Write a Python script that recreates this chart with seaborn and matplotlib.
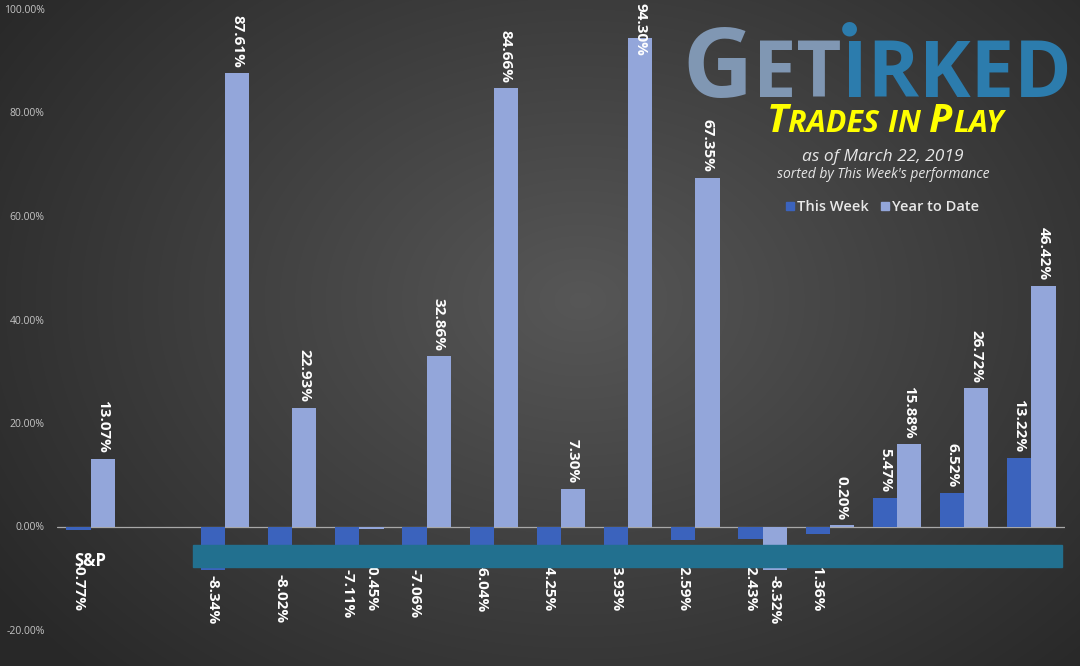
import numpy as np
import pandas as pd
import matplotlib
matplotlib.use("Agg")
import matplotlib.pyplot as plt
import seaborn as sns
from matplotlib.patches import Rectangle

# Data (percent)
categories = ["S&P", "Trade 1", "Trade 2", "Trade 3", "Trade 4", "Trade 5", "Trade 6",
              "Trade 7", "Trade 8", "Trade 9", "Trade 10", "Trade 11", "Trade 12", "Trade 13"]
this_week = [-0.77, -8.34, -8.02, -7.11, -7.06, -6.04, -4.25, -3.93, -2.59, -2.43, -1.36, 5.47, 6.52, 13.22]
year_to_date = [13.07, 87.61, 22.93, -0.45, 32.86, 84.66, 7.30, 94.30, 67.35, -8.32, 0.20, 15.88, 26.72, 46.42]
series = ["This Week", "Year to Date"]
y_ticks = [-20, 0, 20, 40, 60, 80, 100]

df = pd.DataFrame({
    "ticker": categories * 2,
    "series": [series[0]] * len(categories) + [series[1]] * len(categories),
    "pct": this_week + year_to_date,
})
# empty slot between the S&P and the trades
order = [categories[0], ""] + categories[1:]

sns.set_theme(style="white")
plt.rcParams["font.family"] = ["Open Sans", "DejaVu Sans"]

W, H = 1080, 666
fig = plt.figure(figsize=(W / 100, H / 100), dpi=100)

# radial dark background
bg = fig.add_axes([0, 0, 1, 1], zorder=-5)
yy, xx = np.mgrid[0:H, 0:W]
r = np.sqrt(((xx - 580) / 700.0) ** 2 + ((yy - 300) / 520.0) ** 2)
shade = 0.34 - 0.18 * np.clip(r, 0, 1)
bg.imshow(np.dstack([shade] * 3), aspect="auto", extent=[0, 1, 0, 1])
bg.axis("off")

ax = fig.add_axes([57 / W, (H - 630) / H, (1065 - 57) / W, (630 - 9) / H])
ax.set_facecolor("none")

colors = {"This Week": "#3b63bd", "Year to Date": "#93a6da"}
sns.barplot(data=df, x="ticker", y="pct", hue="series", order=order, hue_order=series,
            palette=colors, width=0.72, saturation=1, linewidth=0, ax=ax, legend=False, zorder=3)

ax.axhline(0, color="#a8a8a8", lw=0.9, zorder=2)
ax.set_ylim(-20, 100)
ax.set_yticks(y_ticks)
ax.set_yticklabels([f"{t:.2f}%" for t in y_ticks])
ax.tick_params(axis="y", length=0, pad=9, labelsize=7.5, labelcolor="#c4c4c4")
ax.set_xticks([])
ax.set_xlabel("")
ax.set_ylabel("")
for s in ax.spines.values():
    s.set_visible(False)

renderer = fig.canvas.get_renderer()

# value labels, rotated; negatives kept below the category label row
pad = 1.1
label_kw = dict(rotation=270, ha="center", color="white", fontsize=11, fontweight="bold", zorder=6)
for cont in ax.containers:
    for patch in cont.patches:
        v = patch.get_height()
        if np.isnan(v):
            continue
        x = patch.get_x() + patch.get_width() / 2
        if v >= 0:
            t = ax.text(x, v + pad, f"{v:.2f}%", va="bottom", **label_kw)
            bb = t.get_window_extent(renderer)
            over = bb.y1 - (H - 3)
            if over > 0:
                dy = ax.transData.inverted().transform((0, 0))[1] - ax.transData.inverted().transform((0, over))[1]
                t.set_y(v + pad + dy)
        else:
            ax.text(x, min(v - pad, -6.9), f"{v:.2f}%", va="top", **label_kw)

ax.text(0, -6.6, "S&P", ha="center", va="center", color="white", fontsize=12,
        fontweight="bold", zorder=5)

# band over the trade names
ax.add_patch(Rectangle((193 / W, (H - 567) / H), (1062 - 193) / W, 22 / H,
                       transform=fig.transFigure, color="#22708f", zorder=10, clip_on=False))


def pieces_text(pieces, x_center, y_base, gap=0.0, **kw):
    arts = []
    for txt, size, color in pieces:
        t = fig.text(0, y_base, txt, fontsize=size, color=color, va="baseline", ha="left", **kw)
        arts.append(t)
    widths = [a.get_window_extent(renderer).width / W + gap / W for a in arts]
    x = x_center - sum(widths) / 2
    for a, w in zip(arts, widths):
        a.set_x(x)
        x += w
    return arts


# logo
grey_blue, blue = "#8097b3", "#2c7cad"
logo = pieces_text([("G", 70, grey_blue), ("ET", 56, grey_blue), ("IRKED", 56, blue)],
                   877 / W, (H - 97) / H, fontweight="bold")
i_box = logo[2].get_window_extent(renderer)
fig.text((i_box.x0 + 8) / W, (H - 28) / H, "●", fontsize=14, color=blue, ha="center", va="center",
         family="DejaVu Sans")

yellow = "#ffff00"
pieces_text([("T", 29, yellow), ("RADES ", 22, yellow), ("IN ", 22, yellow),
             ("P", 29, yellow), ("LAY", 22, yellow)],
            885 / W, (H - 132) / H, gap=0.5, fontweight="bold", fontstyle="italic")

fig.text(883 / W, (H - 157) / H, "as of March 22, 2019", ha="center", va="center",
         fontsize=12.5, color="#e6e6e6", fontstyle="italic")
fig.text(883 / W, (H - 175) / H, "sorted by This Week's performance", ha="center", va="center",
         fontsize=10, color="#e6e6e6", fontstyle="italic")

# legend
for sx, lab, c in [(790, "This Week", colors["This Week"]), (885, "Year to Date", colors["Year to Date"])]:
    fig.patches.append(Rectangle(((sx - 4) / W, (H - 210) / H), 8 / W, 8 / H,
                                 transform=fig.transFigure, color=c, figure=fig))
    fig.text((sx + 7) / W, (H - 207) / H, lab, ha="left", va="center", fontsize=10.5,
             color="#e8e8e8", fontweight="semibold")

fig.savefig("out.png", dpi=100)
